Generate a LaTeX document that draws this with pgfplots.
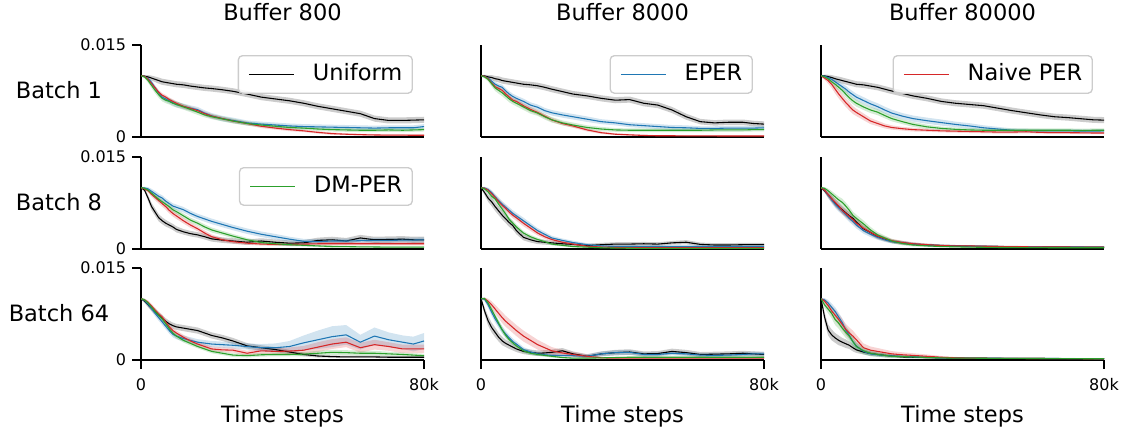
\documentclass[border=0pt]{standalone}
\usepackage{fontspec}
\setmainfont{DejaVu Sans}
\usepackage{pgfplots}
\pgfplotsset{compat=1.18}
\usepgfplotslibrary{fillbetween}
\usepackage{pgfplotstable}

\definecolor{cU}{RGB}{0,0,0}
\definecolor{cE}{RGB}{31,119,180}
\definecolor{cN}{RGB}{214,39,40}
\definecolor{cD}{RGB}{44,160,44}
\newcommand{\lab}{\fontsize{13.5}{16}\selectfont}
\newcommand{\tck}{\fontsize{9.6}{11.5}\selectfont}

% values in units of 0.001, x in thousands of steps
\pgfplotstableread{
x U Us E Es N Ns D Ds
0 10 0.1 10 0.1 10 0.1 10 0.1
1 9.9 0.2 9.9 0.2 9.9 0.2 9.8 0.25
2 9.8 0.3 9.5 0.3 9.4 0.3 9.2 0.35
3 9.6 0.4 8.9 0.35 8.7 0.35 8.4 0.45
4 9.4 0.45 8.0 0.4 8.0 0.35 7.6 0.5
5 9.2 0.5 7.2 0.4 7.3 0.35 6.9 0.5
6 9.0 0.5 6.5 0.4 6.8 0.35 6.3 0.5
7 8.9 0.5 6.2 0.45 6.5 0.35 6.0 0.5
8 8.8 0.5 5.9 0.45 6.1 0.35 5.8 0.5
9 8.7 0.5 5.6 0.45 5.8 0.35 5.5 0.5
10 8.6 0.5 5.3 0.45 5.5 0.35 5.3 0.5
12 8.5 0.5 5.0 0.45 5.0 0.35 4.9 0.45
14 8.3 0.5 4.7 0.45 4.65 0.35 4.5 0.45
16 8.15 0.5 4.45 0.45 4.3 0.35 4.05 0.45
18 8.0 0.5 3.9 0.45 3.8 0.35 3.6 0.4
20 7.9 0.5 3.45 0.45 3.4 0.35 3.3 0.4
23 7.7 0.5 3.0 0.45 3.0 0.3 2.95 0.4
26 7.45 0.5 2.7 0.45 2.6 0.3 2.6 0.4
30 7.0 0.5 2.3 0.4 2.2 0.3 2.2 0.35
34 6.5 0.5 2.1 0.4 1.75 0.3 1.95 0.35
38 6.2 0.5 1.95 0.4 1.45 0.25 1.75 0.35
42 5.9 0.5 1.8 0.4 1.2 0.25 1.55 0.35
46 5.5 0.5 1.7 0.4 1.0 0.2 1.45 0.3
50 5.0 0.5 1.65 0.4 0.75 0.2 1.3 0.3
54 4.6 0.5 1.6 0.4 0.55 0.2 1.2 0.3
58 4.2 0.5 1.55 0.4 0.45 0.15 1.15 0.3
62 3.8 0.5 1.5 0.4 0.38 0.15 1.1 0.3
66 3.0 0.5 1.45 0.4 0.33 0.15 1.1 0.3
70 2.7 0.5 1.5 0.4 0.3 0.15 1.15 0.3
74 2.7 0.5 1.5 0.4 0.3 0.15 1.1 0.3
77 2.75 0.5 1.5 0.4 0.28 0.15 1.15 0.3
80 2.8 0.5 1.7 0.4 0.28 0.15 1.2 0.3
}\tA
\pgfplotstableread{
x U Us E Es N Ns D Ds
0 10 0.1 10 0.1 10 0.1 10 0.1
1 9.95 0.2 9.9 0.2 9.9 0.2 9.8 0.25
2 9.8 0.3 9.6 0.3 9.5 0.3 9.4 0.35
3 9.7 0.4 9.1 0.35 8.8 0.35 8.7 0.45
4 9.5 0.45 8.6 0.4 8.2 0.4 8.0 0.5
5 9.4 0.5 8.3 0.4 7.9 0.4 7.6 0.55
6 9.2 0.5 8.1 0.45 7.6 0.4 7.2 0.55
7 9.1 0.5 7.5 0.45 7.0 0.4 6.7 0.55
8 9.0 0.5 7.0 0.45 6.5 0.4 6.2 0.55
9 8.9 0.5 6.6 0.45 6.0 0.4 5.8 0.5
10 8.8 0.5 6.3 0.45 5.8 0.4 5.5 0.5
12 8.6 0.5 5.8 0.45 5.1 0.4 4.9 0.5
14 8.5 0.5 5.2 0.45 4.5 0.4 4.3 0.5
16 8.35 0.5 4.85 0.45 4.0 0.4 3.9 0.45
18 8.1 0.5 4.3 0.45 3.4 0.35 3.3 0.45
20 7.8 0.5 3.95 0.45 2.8 0.35 2.8 0.45
23 7.4 0.5 3.6 0.45 2.2 0.3 2.3 0.4
26 7.0 0.5 3.3 0.45 1.8 0.3 1.95 0.4
30 6.7 0.5 2.9 0.45 1.15 0.25 1.55 0.35
34 6.3 0.5 2.5 0.4 0.7 0.2 1.3 0.35
38 6.0 0.5 2.3 0.4 0.45 0.15 1.15 0.3
42 6.1 0.5 2.0 0.4 0.35 0.15 1.1 0.3
46 5.5 0.5 1.85 0.4 0.25 0.12 1.1 0.3
50 5.2 0.5 1.7 0.4 0.2 0.1 1.1 0.3
54 4.4 0.5 1.55 0.4 0.2 0.1 1.1 0.3
58 3.3 0.5 1.5 0.4 0.18 0.1 1.1 0.3
62 2.5 0.45 1.4 0.35 0.17 0.1 1.1 0.3
66 2.3 0.45 1.4 0.35 0.17 0.1 1.15 0.3
70 2.4 0.45 1.45 0.35 0.16 0.1 1.15 0.3
74 2.4 0.45 1.45 0.35 0.16 0.1 1.15 0.3
77 2.2 0.45 1.45 0.35 0.16 0.1 1.2 0.3
80 2.1 0.45 1.5 0.35 0.16 0.1 1.2 0.3
}\tB
\pgfplotstableread{
x U Us E Es N Ns D Ds
0 10 0.1 10 0.1 10 0.1 10 0.1
1 9.95 0.2 9.9 0.2 9.6 0.3 9.8 0.25
2 9.85 0.3 9.7 0.3 9.2 0.5 9.5 0.35
3 9.7 0.4 9.4 0.4 8.6 0.6 9.0 0.45
4 9.5 0.45 9.0 0.45 7.8 0.7 8.6 0.5
5 9.35 0.5 8.6 0.5 7.0 0.7 8.1 0.55
6 9.2 0.5 8.2 0.5 6.3 0.7 7.6 0.55
7 9.05 0.5 7.8 0.55 5.6 0.7 7.0 0.55
8 8.9 0.5 7.3 0.55 5.0 0.7 6.4 0.55
9 8.75 0.5 6.9 0.55 4.4 0.65 5.9 0.55
10 8.6 0.5 6.5 0.55 4.0 0.6 5.5 0.55
12 8.5 0.5 5.95 0.55 3.3 0.55 4.9 0.5
14 8.3 0.5 5.4 0.55 2.6 0.5 4.4 0.5
16 8.1 0.5 4.95 0.55 2.2 0.45 4.05 0.5
18 7.8 0.5 4.4 0.55 1.8 0.4 3.5 0.45
20 7.5 0.5 3.9 0.55 1.55 0.35 3.0 0.45
23 7.1 0.5 3.4 0.5 1.35 0.3 2.5 0.4
26 6.7 0.5 3.0 0.5 1.2 0.3 2.05 0.4
30 6.3 0.5 2.65 0.5 1.1 0.25 1.65 0.35
34 5.8 0.5 2.35 0.5 1.0 0.25 1.4 0.3
38 5.5 0.5 2.05 0.45 0.95 0.25 1.25 0.3
42 5.3 0.5 1.8 0.45 0.9 0.25 1.15 0.3
46 5.1 0.5 1.5 0.4 0.85 0.25 1.1 0.3
50 4.7 0.5 1.3 0.35 0.8 0.25 1.1 0.3
54 4.3 0.5 1.1 0.3 0.8 0.25 1.1 0.3
58 3.95 0.5 1.05 0.3 0.85 0.25 1.1 0.3
62 3.6 0.5 1.0 0.3 0.75 0.2 1.1 0.3
66 3.3 0.5 1.0 0.3 0.7 0.2 1.1 0.3
70 3.15 0.5 1.0 0.3 0.7 0.2 1.1 0.3
74 2.95 0.5 0.95 0.3 0.68 0.2 1.05 0.3
77 2.8 0.5 0.95 0.3 0.65 0.2 1.1 0.3
80 2.75 0.5 1.0 0.3 0.65 0.2 1.1 0.3
}\tC
\pgfplotstableread{
x U Us E Es N Ns D Ds
0 10 0.1 10 0.1 10 0.1 10 0.1
1 9.6 0.3 9.95 0.2 9.8 0.2 9.9 0.2
2 8.3 0.5 9.8 0.3 9.5 0.3 9.6 0.3
3 6.9 0.6 9.4 0.4 8.9 0.4 9.1 0.35
4 6.0 0.6 9.0 0.45 8.4 0.45 8.6 0.4
5 5.1 0.6 8.6 0.45 7.9 0.5 8.1 0.4
6 4.6 0.55 8.3 0.45 7.4 0.5 7.7 0.4
7 4.2 0.55 7.8 0.45 6.9 0.5 7.3 0.4
8 3.9 0.5 7.4 0.45 6.3 0.5 6.9 0.4
9 3.6 0.5 7.0 0.45 5.8 0.5 6.4 0.4
10 3.2 0.5 6.8 0.45 5.4 0.5 6.1 0.4
12 2.8 0.45 6.4 0.45 4.6 0.45 5.4 0.4
14 2.5 0.45 5.8 0.45 3.9 0.45 4.7 0.4
16 2.3 0.45 5.3 0.45 3.3 0.4 4.2 0.4
18 2.0 0.45 4.9 0.45 2.6 0.4 3.6 0.4
20 1.65 0.45 4.5 0.45 2.0 0.35 3.1 0.4
23 1.45 0.45 4.0 0.45 1.5 0.3 2.6 0.35
26 1.3 0.45 3.5 0.45 1.2 0.3 2.1 0.35
30 1.1 0.45 2.9 0.45 0.95 0.25 1.5 0.3
34 1.3 0.45 2.4 0.45 0.8 0.25 1.05 0.3
38 1.1 0.45 2.0 0.45 0.75 0.25 0.85 0.25
42 0.95 0.45 1.6 0.4 0.75 0.25 0.7 0.25
46 1.0 0.45 1.25 0.4 0.8 0.25 0.6 0.2
50 1.4 0.45 1.2 0.4 0.85 0.25 0.5 0.2
54 1.5 0.5 1.3 0.4 0.85 0.25 0.4 0.2
58 1.3 0.5 1.3 0.4 0.85 0.25 0.38 0.15
62 1.8 0.5 1.35 0.4 0.85 0.25 0.35 0.15
66 1.5 0.5 1.4 0.4 0.85 0.25 0.33 0.15
70 1.55 0.5 1.4 0.4 0.85 0.25 0.3 0.15
74 1.6 0.5 1.45 0.4 0.85 0.25 0.3 0.15
77 1.5 0.5 1.45 0.4 0.85 0.25 0.3 0.15
80 1.5 0.5 1.5 0.4 0.85 0.25 0.3 0.15
}\tD
\pgfplotstableread{
x U Us E Es N Ns D Ds
0 10 0.1 10 0.1 10 0.1 10 0.1
1 9.2 0.4 9.95 0.2 9.9 0.2 9.8 0.2
2 8.3 0.6 9.7 0.3 9.6 0.3 9.3 0.3
3 7.7 0.7 9.2 0.4 9.0 0.4 8.6 0.4
4 6.9 0.7 8.5 0.45 8.4 0.45 8.15 0.45
5 6.2 0.7 7.9 0.5 7.7 0.5 7.3 0.45
6 5.5 0.7 7.3 0.5 7.1 0.5 6.5 0.45
7 4.9 0.7 6.8 0.5 6.6 0.5 5.7 0.45
8 4.3 0.7 6.3 0.5 6.0 0.5 4.8 0.45
9 3.8 0.65 5.8 0.5 5.5 0.5 4.2 0.45
10 3.0 0.6 5.4 0.5 5.1 0.5 3.6 0.4
12 1.9 0.5 4.6 0.5 4.2 0.5 2.6 0.35
14 1.5 0.45 3.8 0.45 3.4 0.45 2.0 0.3
16 1.2 0.4 3.0 0.4 2.6 0.4 1.55 0.3
18 1.1 0.4 2.4 0.4 2.0 0.35 1.2 0.25
20 1.0 0.35 1.8 0.35 1.55 0.3 0.8 0.2
23 0.85 0.35 1.4 0.3 1.1 0.25 0.6 0.2
26 0.75 0.35 1.05 0.3 0.8 0.2 0.4 0.15
30 0.55 0.3 0.7 0.25 0.45 0.15 0.3 0.1
34 0.7 0.3 0.5 0.2 0.32 0.12 0.2 0.1
38 0.8 0.3 0.4 0.2 0.25 0.1 0.15 0.08
42 0.8 0.3 0.4 0.2 0.2 0.1 0.12 0.08
46 0.85 0.3 0.4 0.2 0.2 0.1 0.1 0.08
50 0.8 0.3 0.4 0.2 0.2 0.1 0.1 0.08
54 1.0 0.3 0.4 0.2 0.2 0.1 0.1 0.08
58 1.1 0.35 0.4 0.2 0.2 0.1 0.1 0.08
62 0.75 0.3 0.4 0.2 0.2 0.1 0.1 0.08
66 0.65 0.3 0.4 0.2 0.2 0.1 0.1 0.08
70 0.65 0.3 0.4 0.2 0.2 0.1 0.1 0.08
74 0.7 0.3 0.4 0.2 0.2 0.1 0.1 0.08
77 0.7 0.3 0.4 0.2 0.2 0.1 0.1 0.08
80 0.7 0.3 0.4 0.2 0.2 0.1 0.1 0.08
}\tE
\pgfplotstableread{
x U Us E Es N Ns D Ds
0 10 0.1 10 0.1 10 0.1 10 0.1
1 9.5 0.3 9.6 0.3 9.6 0.3 9.9 0.2
2 8.8 0.45 8.8 0.45 8.9 0.45 9.5 0.35
3 8.2 0.55 8.0 0.55 8.2 0.55 9.0 0.45
4 7.5 0.6 7.3 0.6 7.6 0.6 8.5 0.5
5 6.9 0.6 6.7 0.6 7.0 0.6 8.0 0.55
6 6.4 0.6 6.2 0.6 6.3 0.6 7.6 0.6
7 5.9 0.6 5.6 0.6 5.8 0.6 7.0 0.6
8 5.4 0.6 5.0 0.6 5.3 0.6 6.3 0.6
9 5.0 0.6 4.5 0.6 4.8 0.6 5.5 0.6
10 4.4 0.55 3.9 0.55 4.2 0.55 5.0 0.6
12 3.3 0.5 3.0 0.5 3.4 0.5 4.1 0.55
14 2.7 0.45 2.4 0.45 2.7 0.45 3.1 0.5
16 2.0 0.4 1.9 0.4 2.1 0.4 2.3 0.45
18 1.6 0.35 1.5 0.35 1.7 0.35 1.8 0.4
20 1.25 0.3 1.2 0.3 1.35 0.3 1.3 0.35
23 1.0 0.3 1.0 0.3 1.05 0.3 0.9 0.3
26 0.8 0.25 0.8 0.25 0.85 0.25 0.65 0.25
30 0.65 0.2 0.65 0.2 0.7 0.2 0.5 0.2
34 0.55 0.2 0.55 0.2 0.55 0.2 0.4 0.15
38 0.5 0.15 0.5 0.15 0.5 0.15 0.35 0.12
42 0.45 0.15 0.45 0.15 0.5 0.15 0.3 0.1
46 0.4 0.15 0.45 0.15 0.45 0.15 0.28 0.1
50 0.4 0.15 0.4 0.15 0.4 0.15 0.25 0.1
54 0.38 0.12 0.38 0.12 0.38 0.12 0.25 0.1
58 0.35 0.12 0.37 0.12 0.36 0.12 0.22 0.1
62 0.35 0.12 0.36 0.12 0.35 0.12 0.22 0.1
66 0.33 0.12 0.35 0.12 0.33 0.12 0.2 0.1
70 0.32 0.12 0.33 0.12 0.32 0.12 0.2 0.1
74 0.3 0.12 0.32 0.12 0.3 0.12 0.2 0.1
77 0.3 0.12 0.3 0.12 0.3 0.12 0.2 0.1
80 0.3 0.12 0.3 0.12 0.3 0.12 0.2 0.1
}\tF
\pgfplotstableread{
x U Us E Es N Ns D Ds
0 10 0.1 10 0.1 10 0.1 10 0.1
1 9.6 0.3 9.7 0.3 9.8 0.2 9.8 0.2
2 9.0 0.4 9.1 0.4 9.4 0.3 9.3 0.3
3 8.4 0.45 8.4 0.45 8.8 0.35 8.6 0.35
4 7.9 0.5 7.6 0.5 8.1 0.4 7.9 0.4
5 7.3 0.5 6.9 0.5 7.5 0.4 7.3 0.4
6 6.8 0.5 6.2 0.5 7.0 0.4 6.7 0.4
7 6.3 0.5 5.5 0.5 6.2 0.4 5.9 0.4
8 5.9 0.5 4.8 0.5 5.4 0.4 5.1 0.4
9 5.6 0.5 4.2 0.5 4.8 0.4 4.4 0.4
10 5.4 0.5 3.9 0.5 4.4 0.4 3.9 0.4
12 5.2 0.5 3.5 0.5 3.7 0.4 3.2 0.35
14 5.0 0.5 3.2 0.5 3.1 0.4 2.7 0.35
16 4.8 0.5 2.9 0.5 2.6 0.4 2.2 0.3
18 4.4 0.5 2.75 0.5 2.2 0.4 1.8 0.3
20 4.0 0.5 2.6 0.5 1.8 0.4 1.4 0.3
23 3.6 0.5 2.5 0.5 1.65 0.4 1.1 0.3
26 3.1 0.5 2.4 0.5 1.6 0.4 0.8 0.3
30 2.3 0.45 2.2 0.5 1.1 0.4 0.7 0.3
34 2.0 0.4 2.0 0.6 1.5 0.5 0.85 0.3
38 1.7 0.4 2.0 0.7 1.4 0.5 0.9 0.3
42 1.3 0.35 2.2 0.9 1.45 0.6 0.9 0.3
46 0.9 0.3 2.8 1.2 1.6 0.7 0.95 0.35
50 0.65 0.25 3.3 1.5 2.1 0.8 1.1 0.4
54 0.55 0.2 3.8 1.7 2.6 0.8 1.25 0.4
58 0.5 0.2 4.1 1.6 2.9 0.8 1.2 0.4
62 0.5 0.2 2.9 1.2 2.0 0.8 1.1 0.4
66 0.5 0.2 3.9 1.4 2.5 0.8 1.1 0.4
70 0.45 0.2 3.3 1.2 2.2 0.7 1.0 0.35
74 0.45 0.2 2.9 1.1 1.8 0.7 0.9 0.3
77 0.45 0.2 2.6 1.2 1.8 0.7 0.8 0.3
80 0.45 0.2 3.1 1.3 1.8 0.7 0.7 0.3
}\tG
\pgfplotstableread{
x U Us E Es N Ns D Ds
0 10 0.1 10 0.1 10 0.1 10 0.1
1 8.0 0.6 9.9 0.3 10.0 0.2 10.0 0.2
2 6.4 0.8 9.0 0.5 9.6 0.4 9.3 0.4
3 5.3 0.8 7.8 0.6 9.0 0.6 8.2 0.5
4 4.5 0.8 6.7 0.6 8.3 0.7 7.1 0.5
5 3.7 0.7 5.8 0.6 7.6 0.8 6.0 0.5
6 3.1 0.7 4.9 0.6 6.9 0.9 4.9 0.5
7 2.7 0.6 4.2 0.55 6.3 0.9 4.0 0.45
8 2.4 0.6 3.6 0.5 5.8 0.9 3.3 0.45
9 2.1 0.55 3.0 0.5 5.3 0.9 2.8 0.4
10 1.8 0.5 2.6 0.45 4.8 0.9 2.3 0.4
12 1.4 0.45 1.7 0.4 3.9 0.9 1.5 0.35
14 1.25 0.45 1.3 0.35 3.2 0.85 1.1 0.3
16 1.1 0.45 1.0 0.3 2.5 0.8 0.9 0.25
18 1.15 0.45 0.85 0.3 2.0 0.7 0.75 0.2
20 1.25 0.45 0.75 0.3 1.5 0.6 0.6 0.2
23 1.5 0.45 0.75 0.3 1.15 0.5 0.4 0.15
26 1.0 0.4 0.7 0.3 0.9 0.4 0.3 0.1
30 0.6 0.35 0.6 0.3 0.6 0.3 0.3 0.1
34 1.0 0.4 1.0 0.35 0.35 0.15 0.35 0.1
38 1.2 0.45 1.2 0.4 0.3 0.1 0.4 0.1
42 1.3 0.45 1.25 0.4 0.3 0.1 0.45 0.1
46 1.0 0.4 0.9 0.35 0.3 0.1 0.45 0.1
50 1.05 0.4 0.9 0.35 0.3 0.1 0.45 0.1
54 1.4 0.45 1.1 0.35 0.3 0.1 0.45 0.1
58 1.2 0.45 1.0 0.35 0.3 0.1 0.45 0.1
62 0.9 0.4 0.8 0.35 0.3 0.1 0.45 0.1
66 0.95 0.4 0.75 0.35 0.3 0.1 0.45 0.1
70 1.0 0.4 0.8 0.35 0.3 0.1 0.45 0.1
74 1.1 0.4 0.9 0.35 0.3 0.1 0.45 0.1
77 1.0 0.4 1.0 0.35 0.3 0.1 0.45 0.1
80 0.9 0.4 1.0 0.35 0.3 0.1 0.45 0.1
}\tH
\pgfplotstableread{
x U Us E Es N Ns D Ds
0 10 0.1 10 0.1 10 0.1 10 0.1
1 7.0 0.8 9.8 0.3 9.6 0.4 9.0 0.5
2 4.9 0.9 9.3 0.5 8.9 0.6 8.3 0.7
3 4.1 0.9 8.6 0.6 8.0 0.8 7.6 0.8
4 3.6 0.8 7.9 0.7 7.3 0.9 6.6 0.9
5 3.2 0.8 7.0 0.7 6.6 0.9 6.0 0.9
6 2.9 0.7 6.1 0.7 5.8 0.9 5.2 0.9
7 2.65 0.7 4.9 0.7 5.0 0.9 4.5 0.9
8 2.4 0.6 4.0 0.6 4.4 0.9 3.9 0.9
9 2.0 0.6 3.0 0.6 3.9 0.9 3.0 0.8
10 1.65 0.5 2.3 0.5 3.3 0.8 2.2 0.7
12 1.3 0.4 1.4 0.4 2.0 0.7 1.5 0.6
14 1.05 0.35 1.0 0.35 1.6 0.6 1.1 0.5
16 0.9 0.3 0.85 0.3 1.4 0.55 0.9 0.4
18 0.75 0.3 0.75 0.3 1.2 0.5 0.75 0.35
20 0.65 0.25 0.65 0.25 1.0 0.45 0.6 0.3
23 0.5 0.2 0.6 0.25 0.85 0.4 0.55 0.25
26 0.45 0.2 0.5 0.2 0.75 0.35 0.5 0.2
30 0.4 0.15 0.45 0.2 0.6 0.3 0.4 0.2
34 0.35 0.12 0.35 0.15 0.45 0.2 0.35 0.15
38 0.3 0.1 0.35 0.12 0.35 0.15 0.3 0.12
42 0.3 0.1 0.3 0.1 0.3 0.1 0.3 0.1
46 0.28 0.1 0.3 0.1 0.28 0.1 0.28 0.1
50 0.27 0.1 0.28 0.1 0.27 0.1 0.27 0.1
54 0.26 0.1 0.27 0.1 0.26 0.1 0.26 0.1
58 0.25 0.1 0.26 0.1 0.25 0.1 0.25 0.1
62 0.24 0.1 0.25 0.1 0.24 0.1 0.24 0.1
66 0.23 0.1 0.24 0.1 0.23 0.1 0.23 0.1
70 0.22 0.1 0.23 0.1 0.22 0.1 0.22 0.1
74 0.21 0.1 0.22 0.1 0.21 0.1 0.21 0.1
77 0.2 0.1 0.21 0.1 0.2 0.1 0.2 0.1
80 0.2 0.1 0.2 0.1 0.2 0.1 0.2 0.1
}\tI

\newcommand{\band}[4]{%
  \addplot[draw=none, forget plot, name path=up#2] table[x=x, y expr=\thisrow{#2}+\thisrow{#3}] {#1};
  \addplot[draw=none, forget plot, name path=lo#2] table[x=x, y expr=\thisrow{#2}-\thisrow{#3}] {#1};
  \addplot[fill=#4, fill opacity=0.2, draw=none, forget plot] fill between[of=up#2 and lo#2];
}
\newcommand{\panel}[1]{%
  \band{#1}{U}{Us}{cU}
  \band{#1}{E}{Es}{cE}
  \band{#1}{N}{Ns}{cN}
  \band{#1}{D}{Ds}{cD}
  \addplot[cU, line width=0.65pt, forget plot] table[x=x, y=U] {#1};
  \addplot[cE, line width=0.65pt, forget plot] table[x=x, y=E] {#1};
  \addplot[cN, line width=0.65pt, forget plot] table[x=x, y=N] {#1};
  \addplot[cD, line width=0.65pt, forget plot] table[x=x, y=D] {#1};
}
\newcommand{\rowlabel}[1]{\node[anchor=base, font=\lab, xshift=-49.2pt, yshift=-4.4pt] at (rel axis cs:0,0.5) {#1};}
\newcommand{\legline}[2]{\addlegendimage{draw=#1, line width=0.7pt}\addlegendentry{#2}}

\pgfplotsset{
  panel/.style={
    scale only axis, width=169.8pt, height=55.2pt, anchor=north west,
    xmin=0, xmax=80, ymin=0, ymax=15, enlargelimits=false,
    axis lines=left, axis line style={-, line width=1.3pt, black},
    tick align=outside, major tick length=5.4pt,
    tick style={line width=1.3pt, black},
    xtick=\empty, ytick=\empty, clip mode=individual,
    tick label style={font=\tck},
    xticklabel style={yshift=-2pt},
    title style={at={(0.5,1)}, anchor=base, yshift=8.4pt, font=\lab},
    xlabel style={at={(0.5,0)}, anchor=base, yshift=-37.8pt, font=\lab},
    legend style={at={(0.961,0.891)}, anchor=north east, draw=black!20, line width=0.8pt,
      rounded corners=2.5pt, fill=white, fill opacity=0.8, text opacity=1, draw opacity=1,
      font=\lab, inner xsep=6pt, inner ysep=5pt, column sep=11pt,
      nodes={inner sep=0pt, text height=10pt, text depth=2.5pt}},
    legend image code/.code={\draw[#1] (0pt,0pt) -- (27pt,0pt);},
  },
  bottomrow/.style={xtick={0,80}, xticklabels={0,80k}, xlabel={Time steps}},
  leftcol/.style={ytick={0,15}, yticklabels={0,0.015}},
}

\begin{document}
\begin{tikzpicture}
% row 1
\begin{axis}[panel, leftcol, at={(84.6pt,231.6pt)}, title={Buffer 800}]
\panel{\tA}
\legline{cU}{Uniform}
\rowlabel{Batch 1}
\end{axis}
\begin{axis}[panel, at={(288.6pt,231.6pt)}, title={Buffer 8000}]
\panel{\tB}
\legline{cE}{EPER}
\end{axis}
\begin{axis}[panel, at={(492.6pt,231.6pt)}, title={Buffer 80000}]
\panel{\tC}
\legline{cN}{Naive PER}
\end{axis}
% row 2
\begin{axis}[panel, leftcol, at={(84.6pt,164.4pt)}]
\panel{\tD}
\legline{cD}{DM-PER}
\rowlabel{Batch 8}
\end{axis}
\begin{axis}[panel, at={(288.6pt,164.4pt)}]
\panel{\tE}
\end{axis}
\begin{axis}[panel, at={(492.6pt,164.4pt)}]
\panel{\tF}
\end{axis}
% row 3
\begin{axis}[panel, leftcol, bottomrow, at={(84.6pt,97.8pt)}]
\panel{\tG}
\rowlabel{Batch 64}
\end{axis}
\begin{axis}[panel, bottomrow, at={(288.6pt,97.8pt)}]
\panel{\tH}
\end{axis}
\begin{axis}[panel, bottomrow, at={(492.6pt,97.8pt)}]
\panel{\tI}
\end{axis}
\pgfresetboundingbox
\useasboundingbox (0,0) rectangle (673.2pt,258.6pt);
\end{tikzpicture}
\end{document}
